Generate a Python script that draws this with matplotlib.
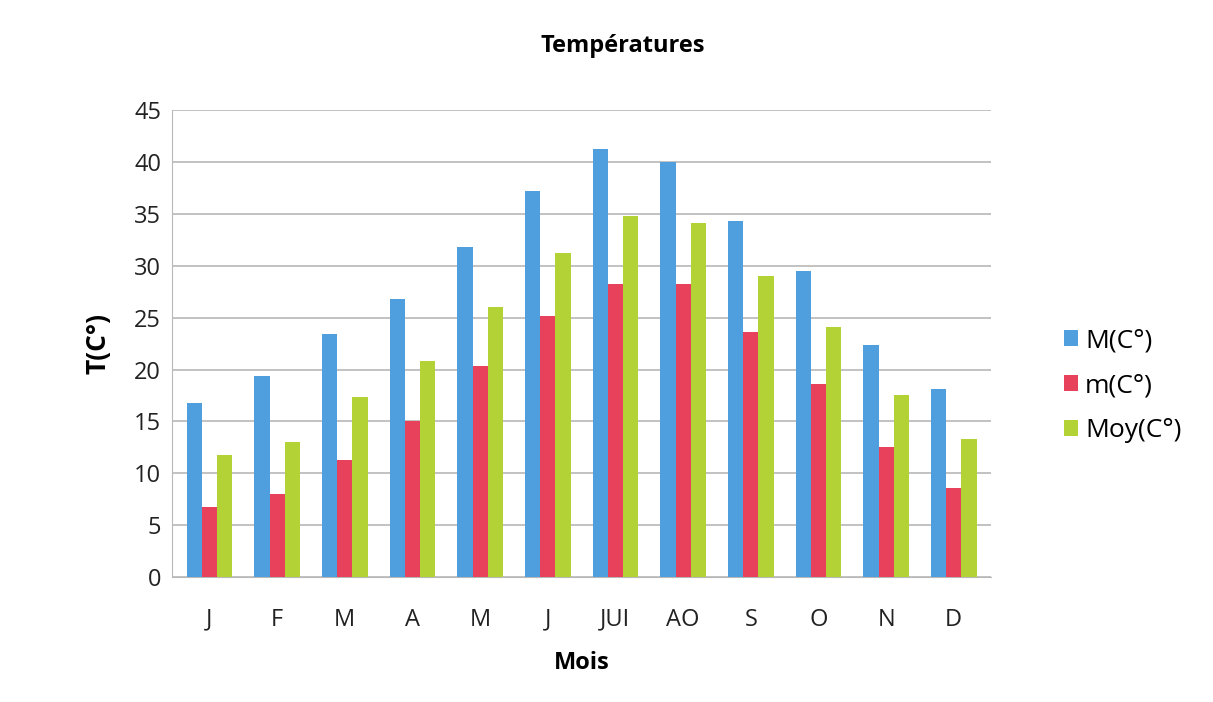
import numpy as np
import matplotlib
matplotlib.use("Agg")
from matplotlib import pyplot as plt

plt.rcParams['font.family'] = ['Open Sans', 'DejaVu Sans']

# températures mensuelles
mois = ['J', 'F', 'M', 'A', 'M', 'J', 'JUI', 'AO', 'S', 'O', 'N', 'D']
t_max = [16.8, 19.4, 23.4, 26.8, 31.8, 37.2, 41.3, 40.0, 34.3, 29.5, 22.4, 18.1]
t_min = [6.8, 8.0, 11.3, 15.0, 20.3, 25.2, 28.2, 28.2, 23.6, 18.6, 12.5, 8.6]
t_moy = [11.8, 13.0, 17.4, 20.8, 26.0, 31.2, 34.8, 34.1, 29.0, 24.1, 17.5, 13.3]

fig = plt.figure(figsize=(12.13, 7.02), dpi=100)
ax = fig.add_axes([0.142, 0.178, 0.675, 0.665])

x = np.arange(len(mois))
w = 0.225
ax.bar(x - w, t_max, w, color='#4f9fde', label='M(C°)', zorder=3)
ax.bar(x, t_min, w, color='#e8415c', label='m(C°)', zorder=3)
ax.bar(x + w, t_moy, w, color='#b3d236', label='Moy(C°)', zorder=3)

ax.set_ylim(0, 45)
ax.set_yticks(range(0, 46, 5))
ax.set_xlim(-0.55, 11.55)
ax.set_xticks(x)
ax.set_xticklabels(mois)
ax.grid(axis='y', color='#b8b8b8', linewidth=1.2, zorder=0)
ax.tick_params(axis='both', length=0, labelsize=17, colors='#222222')
ax.tick_params(axis='x', pad=22)
ax.tick_params(axis='y', pad=8)
for s in ['top', 'right']:
    ax.spines[s].set_visible(False)
ax.spines['left'].set_color('#b8b8b8')
ax.spines['bottom'].set_color('#b8b8b8')

ax.set_title('Températures', fontsize=17, fontweight='bold', pad=42, x=0.55)
ax.set_xlabel('Mois', fontsize=17, fontweight='bold', labelpad=14)
ax.set_ylabel('T(C°)', fontsize=19, fontweight='bold', labelpad=16)

ax.legend(loc='center left', bbox_to_anchor=(1.06, 0.41), frameon=False,
          fontsize=19, handlelength=0.55, handleheight=0.55, handletextpad=0.25,
          labelspacing=0.75)

fig.savefig('out.png', dpi=100, facecolor='white')
